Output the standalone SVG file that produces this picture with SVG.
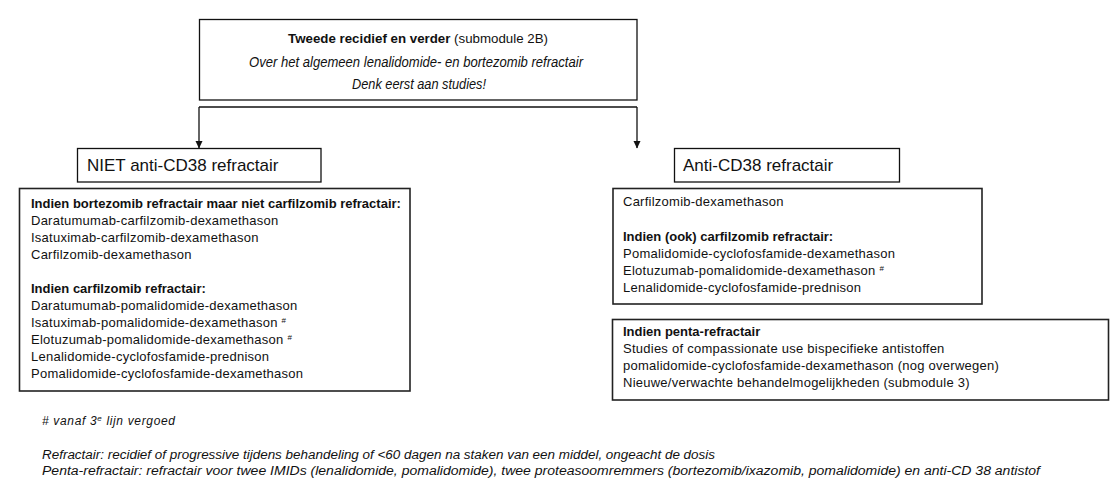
<svg xmlns="http://www.w3.org/2000/svg" width="1112" height="502" viewBox="0 0 1112 502">
<defs>
<style>
text{font-family:"Liberation Sans",Arial,sans-serif;fill:#111}
.box{fill:#fff;stroke:#111;stroke-width:1.3}
.cbox{fill:#fff;stroke:#222;stroke-width:1.6}
.ti{font-size:14.5px}
.hd{font-size:13px;font-weight:bold}
.it{font-size:13px;letter-spacing:0.25px}
.big{font-size:17px}
.fn{font-size:12px;font-style:italic}
.sup{font-size:8px}
.conn{fill:none;stroke:#111;stroke-width:1.3}
</style>
<marker id="arr" markerWidth="8" markerHeight="8" refX="7" refY="4" orient="auto" markerUnits="userSpaceOnUse">
<path d="M0,0.5 L7.5,4 L0,7.5 Z" fill="#111"/>
</marker>
</defs>
<rect width="1112" height="502" fill="#fff"/>

<g id="connectors">
<path class="conn" d="M199,107 L637,107"/>
<path class="conn" d="M199,107 L199,148" marker-end="url(#arr)"/>
<path class="conn" d="M637,107 L637,148" marker-end="url(#arr)"/>
</g>

<g id="node-top">
<rect class="box" x="199.5" y="19.5" width="437.5" height="80.5"/>
<text x="418" y="43" text-anchor="middle" style="font-size:13.3px"><tspan font-weight="bold">Tweede recidief en verder</tspan> (submodule 2B)</text>
<text class="ti" x="249" y="67" font-style="italic" textLength="334" lengthAdjust="spacingAndGlyphs">Over het algemeen lenalidomide- en bortezomib refractair</text>
<text class="ti" x="352" y="89" font-style="italic" textLength="134" lengthAdjust="spacingAndGlyphs">Denk eerst aan studies!</text>
</g>

<g id="node-niet">
<rect class="box" x="77.5" y="148.5" width="243.5" height="33.5"/>
<text class="big" x="87" y="171">NIET anti-CD38 refractair</text>
</g>

<g id="node-anti">
<rect class="box" x="674.5" y="148.5" width="225" height="33.5"/>
<text class="big" x="683" y="171">Anti-CD38 refractair</text>
</g>

<g id="node-niet-list">
<rect class="cbox" x="19.5" y="188.5" width="390.5" height="202.5"/>
<text class="hd" x="31" y="208">Indien bortezomib  refractair maar niet carfilzomib refractair:</text>
<text class="it" x="31" y="225">Daratumumab-carfilzomib-dexamethason</text>
<text class="it" x="31" y="242">Isatuximab-carfilzomib-dexamethason</text>
<text class="it" x="31" y="259">Carfilzomib-dexamethason</text>
<text class="hd" x="31" y="293">Indien carfilzomib refractair:</text>
<text class="it" x="31" y="310">Daratumumab-pomalidomide-dexamethason</text>
<text class="it" x="31" y="327">Isatuximab-pomalidomide-dexamethason <tspan class="sup" baseline-shift="super">#</tspan></text>
<text class="it" x="31" y="344">Elotuzumab-pomalidomide-dexamethason <tspan class="sup" baseline-shift="super">#</tspan></text>
<text class="it" x="31" y="361">Lenalidomide-cyclofosfamide-prednison</text>
<text class="it" x="31" y="378">Pomalidomide-cyclofosfamide-dexamethason</text>
</g>

<g id="node-anti-list">
<rect class="cbox" x="613" y="188.5" width="369" height="115.5"/>
<text class="it" x="623" y="206">Carfilzomib-dexamethason</text>
<text class="hd" x="623" y="241">Indien (ook) carfilzomib refractair:</text>
<text class="it" x="623" y="258">Pomalidomide-cyclofosfamide-dexamethason</text>
<text class="it" x="623" y="275">Elotuzumab-pomalidomide-dexamethason <tspan class="sup" baseline-shift="super">#</tspan></text>
<text class="it" x="623" y="292">Lenalidomide-cyclofosfamide-prednison</text>
</g>

<g id="node-penta">
<rect class="cbox" x="612.5" y="319.5" width="496" height="80.5"/>
<text class="hd" x="623" y="336">Indien penta-refractair</text>
<text class="it" x="623" y="353">Studies of compassionate use bispecifieke antistoffen</text>
<text class="it" x="623" y="370">pomalidomide-cyclofosfamide-dexamethason (nog overwegen)</text>
<text class="it" x="623" y="387">Nieuwe/verwachte behandelmogelijkheden (submodule 3)</text>
</g>

<g id="footnotes">
<text class="fn" x="42" y="425" textLength="133" lengthAdjust="spacing"># vanaf 3<tspan class="sup" baseline-shift="super">e</tspan> lijn vergoed</text>
<text class="fn" x="42" y="459" textLength="673" lengthAdjust="spacingAndGlyphs">Refractair: recidief of progressive tijdens behandeling of &lt;60 dagen na staken van een middel, ongeacht de dosis</text>
<text class="fn" x="42" y="475" textLength="998" lengthAdjust="spacingAndGlyphs">Penta-refractair: refractair voor twee IMIDs (lenalidomide, pomalidomide), twee proteasoomremmers (bortezomib/ixazomib, pomalidomide) en anti-CD 38 antistof</text>
</g>
</svg>
